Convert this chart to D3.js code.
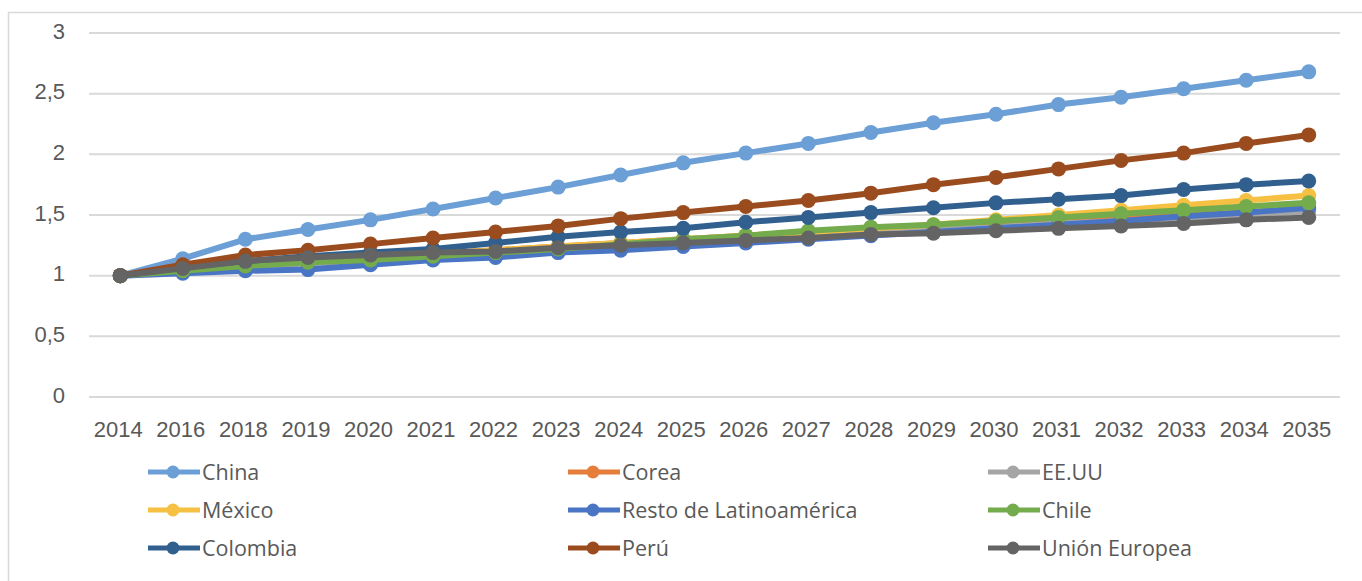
<!DOCTYPE html>
<html>
<head>
<meta charset="utf-8">
<script src="https://cdn.jsdelivr.net/npm/d3@7"></script>
<style>
  html, body { margin: 0; padding: 0; background: #fff; }
  svg { display: block; }
</style>
</head>
<body>
<svg id="chart" width="1362" height="581"></svg>
<script>
// Years on the category axis
const years = ["2014","2016","2018","2019","2020","2021","2022","2023","2024","2025",
               "2026","2027","2028","2029","2030","2031","2032","2033","2034","2035"];

// Index values (2014 = 1) per economy
const china    = [1, 1.14, 1.30, 1.38, 1.46, 1.55, 1.64, 1.73, 1.83, 1.93, 2.01, 2.09, 2.18, 2.26, 2.33, 2.41, 2.47, 2.54, 2.61, 2.68];
const corea    = [1, 1.05, 1.09, 1.12, 1.15, 1.18, 1.21, 1.24, 1.27, 1.30, 1.33, 1.36, 1.38, 1.41, 1.43, 1.45, 1.48, 1.50, 1.52, 1.55];
const eeuu     = [1, 1.04, 1.08, 1.10, 1.13, 1.16, 1.19, 1.22, 1.25, 1.27, 1.30, 1.33, 1.35, 1.38, 1.40, 1.43, 1.45, 1.48, 1.50, 1.53];
const mexico   = [1, 1.05, 1.09, 1.12, 1.15, 1.18, 1.21, 1.24, 1.27, 1.30, 1.33, 1.36, 1.39, 1.42, 1.46, 1.50, 1.54, 1.58, 1.62, 1.66];
const resto    = [1, 1.02, 1.04, 1.05, 1.09, 1.13, 1.15, 1.19, 1.21, 1.24, 1.27, 1.30, 1.33, 1.36, 1.39, 1.42, 1.45, 1.49, 1.52, 1.56];
const chile    = [1, 1.04, 1.08, 1.11, 1.13, 1.16, 1.19, 1.22, 1.26, 1.30, 1.33, 1.37, 1.40, 1.42, 1.45, 1.48, 1.51, 1.54, 1.57, 1.60];
const colombia = [1, 1.07, 1.12, 1.16, 1.19, 1.22, 1.27, 1.32, 1.36, 1.39, 1.44, 1.48, 1.52, 1.56, 1.60, 1.63, 1.66, 1.71, 1.75, 1.78];
const peru     = [1, 1.09, 1.17, 1.21, 1.26, 1.31, 1.36, 1.41, 1.47, 1.52, 1.57, 1.62, 1.68, 1.75, 1.81, 1.88, 1.95, 2.01, 2.09, 2.16];
const ue       = [1, 1.06, 1.12, 1.15, 1.17, 1.19, 1.20, 1.23, 1.25, 1.27, 1.29, 1.31, 1.34, 1.35, 1.37, 1.39, 1.41, 1.43, 1.46, 1.48];

const seriesNames  = ["China","Corea","EE.UU","México","Resto de Latinoamérica","Chile","Colombia","Perú","Unión Europea"];
const seriesValues = [china, corea, eeuu, mexico, resto, chile, colombia, peru, ue];
const seriesColors = ["#6b9fd6","#e47e3a","#a5a5a5","#f6c143","#4a74c4","#74ab4c","#31608f","#9b4c1e","#646464"];

const yTicks = [0, 0.5, 1, 1.5, 2, 2.5, 3];
const fmt = d => String(d).replace(".", ",");

const svg = d3.select("#chart");

// chart frame
svg.append("rect")
  .attr("x", 8.5).attr("y", 12.5)
  .attr("width", 1400).attr("height", 600)
  .attr("fill", "#fff").attr("stroke", "#d9d9d9").attr("stroke-width", 1.5);

const x = d3.scaleBand().domain(years).range([89, 1340]);
const y = d3.scaleLinear().domain([0, 3]).range([397, 33]);

// horizontal gridlines
svg.append("g").selectAll("line").data(yTicks).join("line")
  .attr("x1", 89).attr("x2", 1340)
  .attr("y1", d => y(d)).attr("y2", d => y(d))
  .attr("stroke", "#d9d9d9").attr("stroke-width", 2);

// y axis labels
const yAxis = d3.axisLeft(y).tickValues(yTicks).tickFormat(fmt).tickSize(0).tickPadding(0);
svg.append("g").attr("transform", "translate(65,-2)").call(yAxis)
  .call(g => g.select(".domain").remove())
  .call(g => g.selectAll("text")
    .attr("font-family", "'Liberation Sans', Arial, sans-serif")
    .attr("font-size", 22).attr("fill", "#595959"));

// x axis labels
const xAxis = d3.axisBottom(x).tickSize(0).tickPadding(0);
svg.append("g").attr("transform", "translate(-2,421)").call(xAxis)
  .call(g => g.select(".domain").remove())
  .call(g => g.selectAll("text")
    .attr("font-family", "'Liberation Sans', Arial, sans-serif")
    .attr("font-size", 22).attr("fill", "#595959"));

const cx = d => x(d) + x.bandwidth() / 2;
const line = d3.line().x((d, i) => cx(years[i])).y(d => y(d));

// series lines with markers
seriesValues.forEach((vals, k) => {
  const g = svg.append("g");
  g.append("path").datum(vals)
    .attr("d", line).attr("fill", "none")
    .attr("stroke", seriesColors[k]).attr("stroke-width", 6)
    .attr("stroke-linejoin", "round");
  g.selectAll("circle").data(vals).join("circle")
    .attr("cx", (d, i) => cx(years[i])).attr("cy", d => y(d))
    .attr("r", 7.5).attr("fill", seriesColors[k]);
});

// legend: three columns, three rows
const legX = [148, 568, 988];
const legY = [472, 510, 548];
const leg = svg.append("g");
seriesNames.forEach((name, k) => {
  const lx = legX[k % 3], ly = legY[Math.floor(k / 3)];
  const item = leg.append("g").attr("transform", `translate(${lx},${ly})`);
  item.append("line").attr("x1", 0).attr("x2", 52).attr("y1", 0).attr("y2", 0)
    .attr("stroke", seriesColors[k]).attr("stroke-width", 5);
  item.append("circle").attr("cx", 25).attr("cy", 0).attr("r", 6.5).attr("fill", seriesColors[k]);
  item.append("text").attr("x", 54).attr("y", 0).attr("dy", "0.35em")
    .attr("font-family", "'Open Sans', sans-serif").attr("font-size", 21.5)
    .attr("fill", "#595959").text(name);
});
</script>
</body>
</html>
